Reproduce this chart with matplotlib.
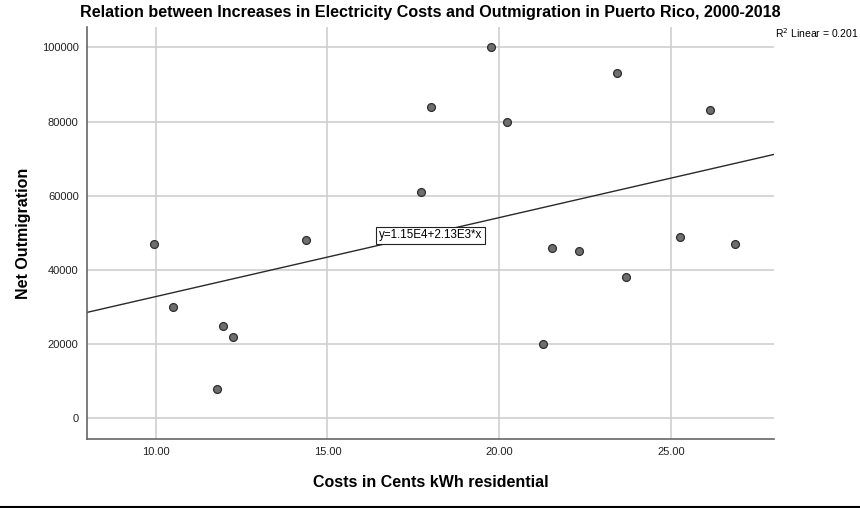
#!/usr/bin/env python

""" scatter of electricity cost vs net outmigration, Puerto Rico 2000-2018 """

import matplotlib
matplotlib.use("Agg")
import matplotlib.pyplot as plt
from matplotlib.lines import Line2D

# residential cost (cents / kWh) and net outmigration
costs = [9.95, 10.49, 11.79, 11.95, 12.26, 14.38, 17.73, 18.02, 19.75,
         20.24, 21.28, 21.55, 22.31, 23.42, 23.69, 25.25, 26.14, 26.86]
outmigration = [47000, 30000, 8000, 25000, 22000, 48000, 61000, 84000, 100000,
                80000, 20000, 46000, 45000, 93000, 38000, 49000, 83000, 47000]

# fitted line printed on the chart
intercept = 1.15e4
slope = 2.13e3
r_squared = 0.201
x_ticks = [10, 15, 20, 25]
y_ticks = [0, 20000, 40000, 60000, 80000, 100000]


def main():
    """ main body """
    plt.rcParams['font.family'] = ['Liberation Sans', 'DejaVu Sans']
    fig = plt.figure(figsize=(8.6, 5.08), dpi=100)
    ax = fig.add_axes([87 / 860, 1 - 439 / 508, 687 / 860, 412 / 508])

    ax.set_xlim(8.0, 28.0)
    ax.set_ylim(-5600, 105500)
    ax.set_xticks(x_ticks)
    ax.set_xticklabels([f"{t:.2f}" for t in x_ticks])
    ax.set_yticks(y_ticks)
    ax.tick_params(length=0, labelsize=8, colors='#222222', pad=6)
    ax.grid(color='#cfcfcf', linewidth=1.2)
    ax.set_axisbelow(True)
    for side in ('top', 'right'):
        ax.spines[side].set_visible(False)
    for side in ('left', 'bottom'):
        ax.spines[side].set_color('#666666')
        ax.spines[side].set_linewidth(1.2)

    # regression line across the full x range
    xs = list(ax.get_xlim())
    ax.plot(xs, [intercept + slope * x for x in xs], color='#2a2a2a',
            linewidth=1.0, zorder=2)

    ax.scatter(costs, outmigration, s=32, color='#6e6e6e',
               edgecolors='#2e2e2e', linewidths=0.9, zorder=3)

    ax.text(18.0, 49300, "y=1.15E4+2.13E3*x", fontsize=8.4, ha='center',
            va='center', zorder=4,
            bbox=dict(boxstyle='square,pad=0.22', facecolor='white',
                      edgecolor='#222222', linewidth=0.8))

    fig.text(775 / 860, 1 - 33 / 508, f"R$^2$ Linear = {r_squared}",
             fontsize=7.5, ha='left', va='center')

    fig.suptitle("Relation between Increases in Electricity Costs and "
                 "Outmigration in Puerto Rico, 2000-2018",
                 x=430 / 860, y=1 - 13 / 508, fontsize=11.6, fontweight='bold',
                 va='center')
    ax.set_xlabel("Costs in Cents kWh residential", fontsize=11.5,
                  fontweight='bold', labelpad=13)
    ax.set_ylabel("Net Outmigration", fontsize=11.5, fontweight='bold',
                  labelpad=8)

    # black rule along the bottom edge
    fig.add_artist(Line2D([0, 1], [1.5 / 508, 1.5 / 508], color='black',
                          linewidth=1.5, transform=fig.transFigure))

    fig.savefig("out.png", dpi=100)
    plt.close()


if __name__ == "__main__":
    main()
